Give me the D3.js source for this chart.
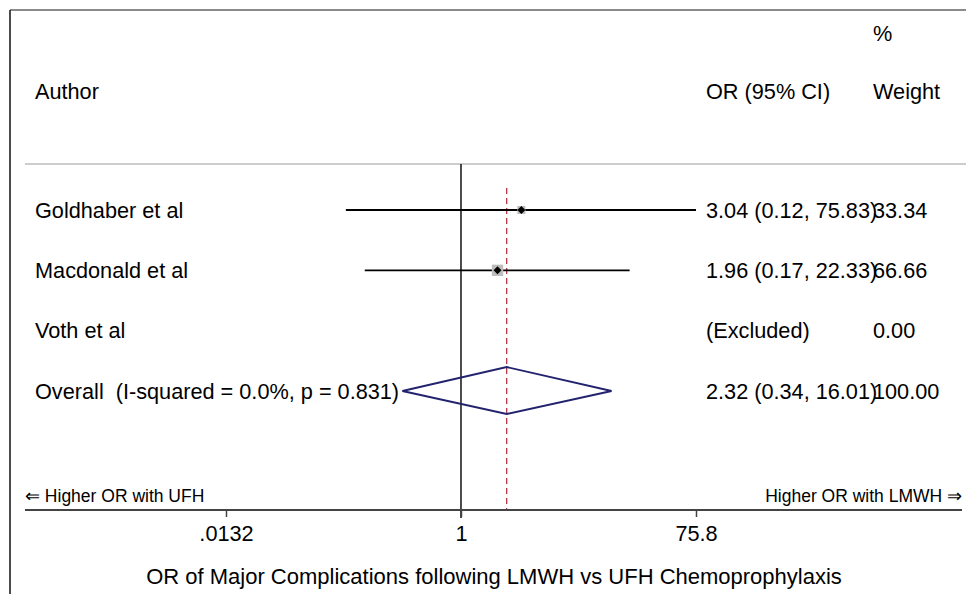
<!DOCTYPE html>
<html>
<head>
<meta charset="utf-8">
<script src="https://cdn.jsdelivr.net/npm/d3@7"></script>
<style>
  body { margin: 0; background: #fff; }
  svg { display: block; font-family: "Liberation Sans", Arial, Helvetica, sans-serif; }
  text { white-space: pre; }
</style>
</head>
<body>
<div id="chart"></div>
<script>
// study data
const authors = ["Goldhaber et al", "Macdonald et al", "Voth et al"];
const orValues = [3.04, 1.96, null];
const lowerCI = [0.12, 0.17, null];
const upperCI = [75.83, 22.33, null];
const weights = [33.34, 66.66, 0.00];
const orLabels = ["3.04 (0.12, 75.83)", "1.96 (0.17, 22.33)", "(Excluded)"];
const weightLabels = ["33.34", "66.66", "0.00"];

// pooled estimate
const overallLabel = "Overall  (I-squared = 0.0%, p = 0.831)";
const overallOR = [2.32];
const overallCI = [0.34, 16.01];
const overallText = ["2.32 (0.34, 16.01)", "100.00"];

// axis
const tickValues = [0.0132, 1, 75.8];
const tickLabels = [".0132", "1", "75.8"];
const axisTitle = "OR of Major Complications following LMWH vs UFH Chemoprophylaxis";
const favourLeft = "\u21D0 Higher OR with UFH";
const favourRight = "Higher OR with LMWH \u21D2";

const width = 966, height = 594;
const fontSize = 21.7;

const svg = d3.select("#chart").append("svg")
    .attr("width", width)
    .attr("height", height);

// frame (top + left edge of the exported figure)
svg.append("line").attr("x1", 10).attr("x2", width).attr("y1", 10).attr("y2", 10)
    .attr("stroke", "#8a8a8a").attr("stroke-width", 2);
svg.append("line").attr("x1", 10).attr("x2", 10).attr("y1", 10).attr("y2", height)
    .attr("stroke", "#111").attr("stroke-width", 1.5);

// scales
const x = d3.scaleLog()
    .domain([tickValues[0], tickValues[2]])
    .range([226, 696]);

const rowNames = authors.concat(["Overall"]);
const y = d3.scalePoint()
    .domain(rowNames)
    .range([210, 391]);

const boxSize = d3.scaleSqrt().domain([0, 100]).range([0, 13.9]);

const colAuthor = 35, colOR = 706, colWeight = 873;
const axisY = 510;

// header
const header = svg.append("g").attr("font-size", fontSize).attr("fill", "#000");
header.append("text").attr("x", colWeight).attr("y", 33).attr("dy", "0.35em").text("%");
header.append("text").attr("x", colAuthor).attr("y", 91).attr("dy", "0.35em").text("Author");
header.append("text").attr("x", colOR).attr("y", 91).attr("dy", "0.35em").text("OR (95% CI)");
header.append("text").attr("x", colWeight).attr("y", 91).attr("dy", "0.35em").text("Weight");

svg.append("line").attr("x1", 25).attr("x2", width).attr("y1", 164).attr("y2", 164)
    .attr("stroke", "#bdbdbd").attr("stroke-width", 1.5);

// line of no effect
svg.append("line")
    .attr("x1", x(1)).attr("x2", x(1))
    .attr("y1", 164).attr("y2", axisY + 8)
    .attr("stroke", "#111").attr("stroke-width", 1.5);

// pooled estimate line
svg.append("line")
    .attr("x1", x(overallOR[0])).attr("x2", x(overallOR[0]))
    .attr("y1", 188).attr("y2", axisY)
    .attr("stroke", "#b5374a").attr("stroke-width", 1.3)
    .attr("stroke-dasharray", "6,4");

// studies
const studies = authors.map((a, i) => ({
    author: a, or: orValues[i], lo: lowerCI[i], hi: upperCI[i],
    weight: weights[i], orLabel: orLabels[i], wLabel: weightLabels[i]
}));

const rows = svg.selectAll(".study")
    .data(studies)
    .enter()
    .append("g")
    .classed("study", true);

rows.filter(d => d.or != null).append("line")
    .attr("x1", d => x(d.lo)).attr("x2", d => x(d.hi))
    .attr("y1", d => y(d.author)).attr("y2", d => y(d.author))
    .attr("stroke", "#000").attr("stroke-width", 1.8);

rows.filter(d => d.or != null).append("rect")
    .attr("x", d => x(d.or) - boxSize(d.weight) / 2)
    .attr("y", d => y(d.author) - boxSize(d.weight) / 2)
    .attr("width", d => boxSize(d.weight))
    .attr("height", d => boxSize(d.weight))
    .attr("fill", "#bdbdbd");

rows.filter(d => d.or != null).append("path")
    .attr("d", d => {
        const cx = x(d.or), cy = y(d.author), r = 4;
        return `M${cx - r},${cy}L${cx},${cy - r}L${cx + r},${cy}L${cx},${cy + r}Z`;
    })
    .attr("fill", "#000");

rows.append("text")
    .attr("x", colAuthor).attr("y", d => y(d.author)).attr("dy", "0.35em")
    .attr("font-size", fontSize)
    .text(d => d.author);
rows.append("text")
    .attr("x", colOR).attr("y", d => y(d.author)).attr("dy", "0.35em")
    .attr("font-size", fontSize)
    .text(d => d.orLabel);
rows.append("text")
    .attr("x", colWeight).attr("y", d => y(d.author)).attr("dy", "0.35em")
    .attr("font-size", fontSize)
    .text(d => d.wLabel);

// overall diamond
const oy = y("Overall");
svg.append("path")
    .attr("d", `M${x(overallCI[0])},${oy}L${x(overallOR[0])},${oy - 24}L${x(overallCI[1])},${oy}L${x(overallOR[0])},${oy + 23}Z`)
    .attr("fill", "none")
    .attr("stroke", "#22226e")
    .attr("stroke-width", 1.8);

svg.append("text").attr("x", colAuthor).attr("y", oy).attr("dy", "0.35em")
    .attr("font-size", fontSize).text(overallLabel);
svg.append("text").attr("x", colOR).attr("y", oy).attr("dy", "0.35em")
    .attr("font-size", fontSize).text(overallText[0]);
svg.append("text").attr("x", colWeight).attr("y", oy).attr("dy", "0.35em")
    .attr("font-size", fontSize).text(overallText[1]);

// favours labels
svg.append("text").attr("x", 25).attr("y", 496).attr("dy", "0.35em")
    .attr("font-size", 17.5).text(favourLeft);
svg.append("text").attr("x", 962).attr("y", 496).attr("dy", "0.35em")
    .attr("text-anchor", "end")
    .attr("font-size", 17.5).text(favourRight);

// x axis
const axis = d3.axisBottom(x)
    .tickValues(tickValues)
    .tickFormat((d, i) => tickLabels[i])
    .tickSize(7)
    .tickPadding(9);

const axisG = svg.append("g")
    .attr("transform", `translate(0,${axisY})`)
    .call(axis);
axisG.select(".domain").remove();
axisG.append("line").attr("x1", 25).attr("x2", 962)
    .attr("stroke", "#444").attr("stroke-width", 2);
axisG.selectAll(".tick line").attr("stroke", "#444").attr("stroke-width", 1.5);
axisG.selectAll(".tick text")
    .attr("font-size", fontSize)
    .attr("font-family", "'Liberation Sans', Arial, sans-serif")
    .attr("fill", "#000");

svg.append("text")
    .attr("x", 494).attr("y", 576).attr("dy", "0.35em")
    .attr("text-anchor", "middle")
    .attr("font-size", 22)
    .text(axisTitle);
</script>
</body>
</html>
